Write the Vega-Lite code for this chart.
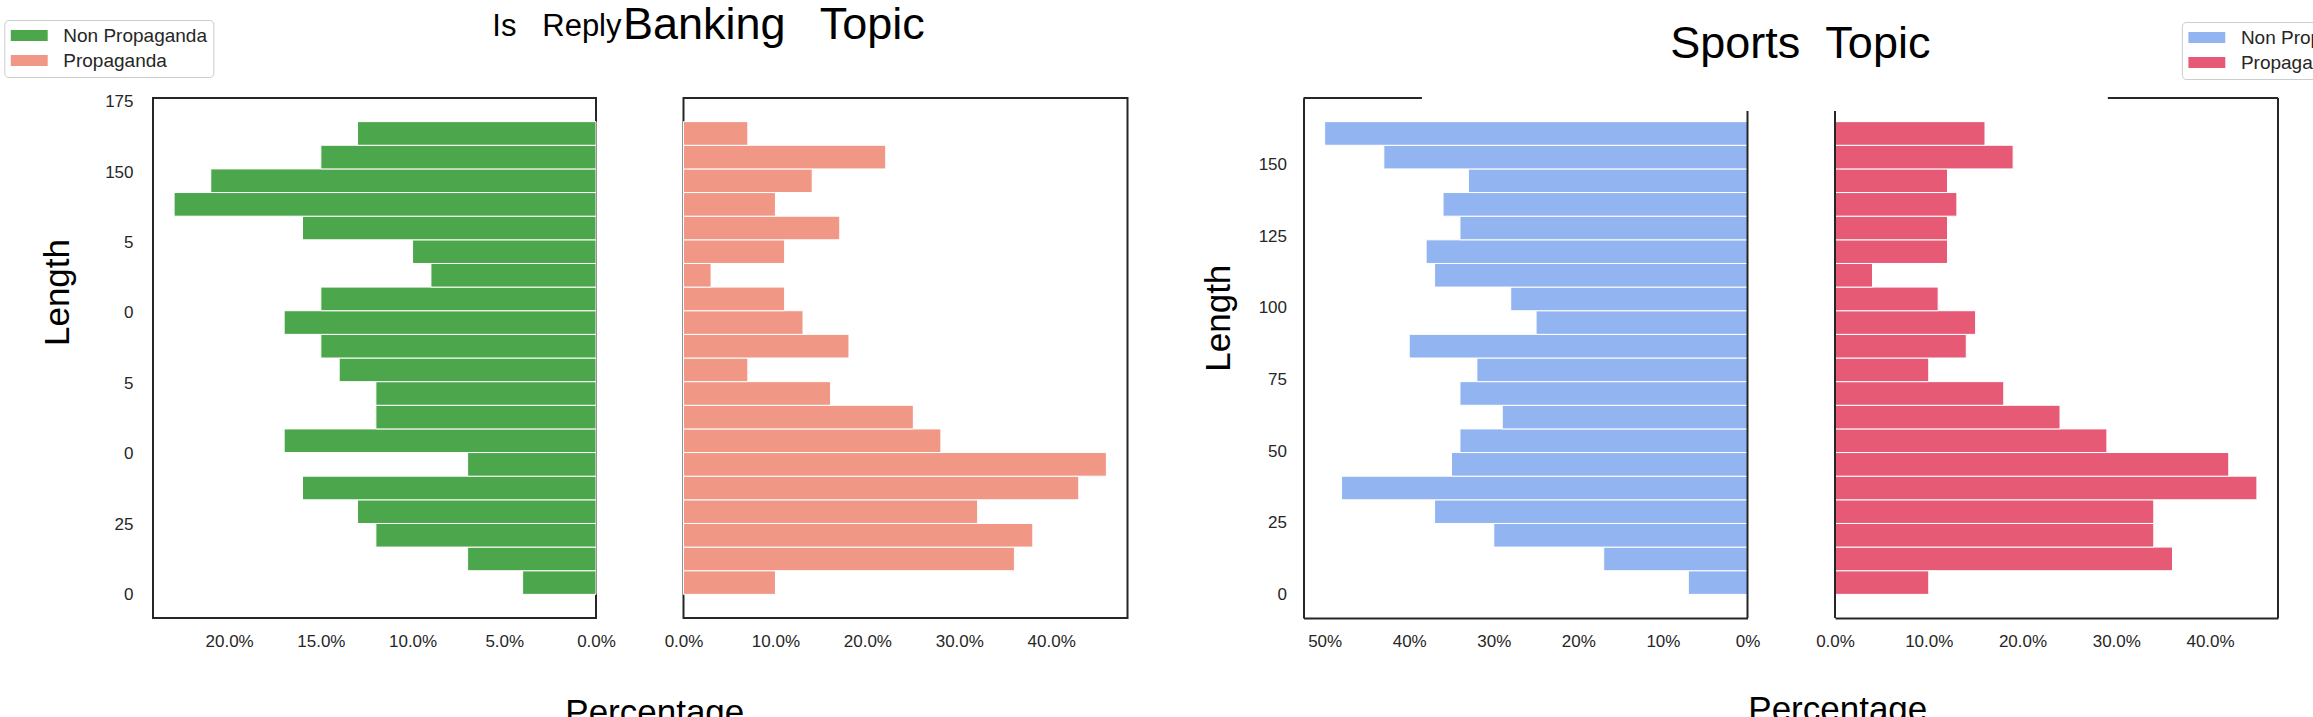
{
  "$schema": "https://vega.github.io/schema/vega-lite/v6.json",
  "background": "white",
  "padding": {"left": 2, "top": 2, "right": 0, "bottom": 0},
  "datasets": {
    "banking": [
      {"start": 0, "end": 8.4, "cls": "Non Propaganda", "pct": 4},
      {"start": 8.4, "end": 16.8, "cls": "Non Propaganda", "pct": 7},
      {"start": 16.8, "end": 25.2, "cls": "Non Propaganda", "pct": 12},
      {"start": 25.2, "end": 33.6, "cls": "Non Propaganda", "pct": 13},
      {"start": 33.6, "end": 42, "cls": "Non Propaganda", "pct": 16},
      {"start": 42, "end": 50.4, "cls": "Non Propaganda", "pct": 7},
      {"start": 50.4, "end": 58.8, "cls": "Non Propaganda", "pct": 17},
      {"start": 58.8, "end": 67.2, "cls": "Non Propaganda", "pct": 12},
      {"start": 67.2, "end": 75.6, "cls": "Non Propaganda", "pct": 12},
      {"start": 75.6, "end": 84, "cls": "Non Propaganda", "pct": 14},
      {"start": 84, "end": 92.4, "cls": "Non Propaganda", "pct": 15},
      {"start": 92.4, "end": 100.8, "cls": "Non Propaganda", "pct": 17},
      {"start": 100.8, "end": 109.2, "cls": "Non Propaganda", "pct": 15},
      {"start": 109.2, "end": 117.6, "cls": "Non Propaganda", "pct": 9},
      {"start": 117.6, "end": 126, "cls": "Non Propaganda", "pct": 10},
      {"start": 126, "end": 134.4, "cls": "Non Propaganda", "pct": 16},
      {"start": 134.4, "end": 142.8, "cls": "Non Propaganda", "pct": 23},
      {"start": 142.8, "end": 151.2, "cls": "Non Propaganda", "pct": 21},
      {"start": 151.2, "end": 159.6, "cls": "Non Propaganda", "pct": 15},
      {"start": 159.6, "end": 168, "cls": "Non Propaganda", "pct": 13},
      {"start": 0, "end": 8.4, "cls": "Propaganda", "pct": 10},
      {"start": 8.4, "end": 16.8, "cls": "Propaganda", "pct": 36},
      {"start": 16.8, "end": 25.2, "cls": "Propaganda", "pct": 38},
      {"start": 25.2, "end": 33.6, "cls": "Propaganda", "pct": 32},
      {"start": 33.6, "end": 42, "cls": "Propaganda", "pct": 43},
      {"start": 42, "end": 50.4, "cls": "Propaganda", "pct": 46},
      {"start": 50.4, "end": 58.8, "cls": "Propaganda", "pct": 28},
      {"start": 58.8, "end": 67.2, "cls": "Propaganda", "pct": 25},
      {"start": 67.2, "end": 75.6, "cls": "Propaganda", "pct": 16},
      {"start": 75.6, "end": 84, "cls": "Propaganda", "pct": 7},
      {"start": 84, "end": 92.4, "cls": "Propaganda", "pct": 18},
      {"start": 92.4, "end": 100.8, "cls": "Propaganda", "pct": 13},
      {"start": 100.8, "end": 109.2, "cls": "Propaganda", "pct": 11},
      {"start": 109.2, "end": 117.6, "cls": "Propaganda", "pct": 3},
      {"start": 117.6, "end": 126, "cls": "Propaganda", "pct": 11},
      {"start": 126, "end": 134.4, "cls": "Propaganda", "pct": 17},
      {"start": 134.4, "end": 142.8, "cls": "Propaganda", "pct": 10},
      {"start": 142.8, "end": 151.2, "cls": "Propaganda", "pct": 14},
      {"start": 151.2, "end": 159.6, "cls": "Propaganda", "pct": 22},
      {"start": 159.6, "end": 168, "cls": "Propaganda", "pct": 7}
    ],
    "sports": [
      {"start": 0, "end": 8.25, "cls": "Non Propaganda", "pct": 7},
      {"start": 8.25, "end": 16.5, "cls": "Non Propaganda", "pct": 17},
      {"start": 16.5, "end": 24.75, "cls": "Non Propaganda", "pct": 30},
      {"start": 24.75, "end": 33, "cls": "Non Propaganda", "pct": 37},
      {"start": 33, "end": 41.25, "cls": "Non Propaganda", "pct": 48},
      {"start": 41.25, "end": 49.5, "cls": "Non Propaganda", "pct": 35},
      {"start": 49.5, "end": 57.75, "cls": "Non Propaganda", "pct": 34},
      {"start": 57.75, "end": 66, "cls": "Non Propaganda", "pct": 29},
      {"start": 66, "end": 74.25, "cls": "Non Propaganda", "pct": 34},
      {"start": 74.25, "end": 82.5, "cls": "Non Propaganda", "pct": 32},
      {"start": 82.5, "end": 90.75, "cls": "Non Propaganda", "pct": 40},
      {"start": 90.75, "end": 99, "cls": "Non Propaganda", "pct": 25},
      {"start": 99, "end": 107.25, "cls": "Non Propaganda", "pct": 28},
      {"start": 107.25, "end": 115.5, "cls": "Non Propaganda", "pct": 37},
      {"start": 115.5, "end": 123.75, "cls": "Non Propaganda", "pct": 38},
      {"start": 123.75, "end": 132, "cls": "Non Propaganda", "pct": 34},
      {"start": 132, "end": 140.25, "cls": "Non Propaganda", "pct": 36},
      {"start": 140.25, "end": 148.5, "cls": "Non Propaganda", "pct": 33},
      {"start": 148.5, "end": 156.75, "cls": "Non Propaganda", "pct": 43},
      {"start": 156.75, "end": 165, "cls": "Non Propaganda", "pct": 50},
      {"start": 0, "end": 8.25, "cls": "Propaganda", "pct": 10},
      {"start": 8.25, "end": 16.5, "cls": "Propaganda", "pct": 36},
      {"start": 16.5, "end": 24.75, "cls": "Propaganda", "pct": 34},
      {"start": 24.75, "end": 33, "cls": "Propaganda", "pct": 34},
      {"start": 33, "end": 41.25, "cls": "Propaganda", "pct": 45},
      {"start": 41.25, "end": 49.5, "cls": "Propaganda", "pct": 42},
      {"start": 49.5, "end": 57.75, "cls": "Propaganda", "pct": 29},
      {"start": 57.75, "end": 66, "cls": "Propaganda", "pct": 24},
      {"start": 66, "end": 74.25, "cls": "Propaganda", "pct": 18},
      {"start": 74.25, "end": 82.5, "cls": "Propaganda", "pct": 10},
      {"start": 82.5, "end": 90.75, "cls": "Propaganda", "pct": 14},
      {"start": 90.75, "end": 99, "cls": "Propaganda", "pct": 15},
      {"start": 99, "end": 107.25, "cls": "Propaganda", "pct": 11},
      {"start": 107.25, "end": 115.5, "cls": "Propaganda", "pct": 4},
      {"start": 115.5, "end": 123.75, "cls": "Propaganda", "pct": 12},
      {"start": 123.75, "end": 132, "cls": "Propaganda", "pct": 12},
      {"start": 132, "end": 140.25, "cls": "Propaganda", "pct": 13},
      {"start": 140.25, "end": 148.5, "cls": "Propaganda", "pct": 12},
      {"start": 148.5, "end": 156.75, "cls": "Propaganda", "pct": 19},
      {"start": 156.75, "end": 165, "cls": "Propaganda", "pct": 16}
    ]
  },
  "spacing": 87.5,
  "bounds": "flush",
  "resolve": {"scale": {"color": "independent", "x": "independent", "y": "independent"}, "legend": {"color": "independent"}},
  "hconcat": [
    {
      "width": 443,
      "height": 520,
      "data": {"name": "banking"},
      "transform": [{"filter": "datum.cls == 'Non Propaganda'"}],
      "mark": {"type": "rect", "stroke": "white", "strokeWidth": 1},
      "encoding": {
        "y": {"field": "start", "type": "quantitative", "scale": {"domain": [-8.4, 176.4], "nice": false, "zero": false},
          "axis": {"values": [0, 25, 50, 75, 100, 125, 150, 175], "title": "Length", "titleX": -85, "titleY": 194, "titleAlign": "center", "titleBaseline": "alphabetic", "titleAngle": -90, "labelPadding": 20,
            "labelExpr": "(datum.value == 125 || datum.value == 75) ? '5' : ((datum.value == 100 || datum.value == 50) ? '0' : datum.label)"}},
        "y2": {"field": "end"},
        "x": {"field": "pct", "type": "quantitative", "scale": {"domain": [0, 24.15], "reverse": true, "nice": false, "zero": false},
          "axis": {"values": [0, 5, 10, 15, 20], "labelExpr": "format(datum.value, '.1f') + '%'", "title": null, "labelPadding": 15}},
        "x2": {"datum": 0},
        "color": {"field": "cls", "type": "nominal", "scale": {"domain": ["Non Propaganda", "Propaganda"], "range": ["#4ca64c", "#f19785"]},
          "legend": {"orient": "none", "legendX": -148.7, "legendY": -78}}
      }
    },
    {
      "width": 444,
      "height": 520,
      "data": {"name": "banking"},
      "transform": [{"filter": "datum.cls == 'Propaganda'"}],
      "title": {"text": "Banking\u00a0\u00a0\u2009Topic", "fontSize": 45, "anchor": "start", "dx": -60.5, "offset": 50},
      "mark": {"type": "rect", "stroke": "white", "strokeWidth": 1},
      "encoding": {
        "y": {"field": "start", "type": "quantitative", "scale": {"domain": [-8.4, 176.4], "nice": false, "zero": false}, "axis": null},
        "y2": {"field": "end"},
        "x": {"field": "pct", "type": "quantitative", "scale": {"domain": [0, 48.3], "nice": false, "zero": false},
          "axis": {"values": [0, 10, 20, 30, 40], "labelExpr": "format(datum.value, '.1f') + '%'", "title": "Percentage", "titleX": -29.2, "titleY": 105.5, "titleAlign": "center", "titleBaseline": "alphabetic", "labelPadding": 15}},
        "x2": {"datum": 0},
        "color": {"field": "cls", "type": "nominal", "scale": {"domain": ["Non Propaganda", "Propaganda"], "range": ["#4ca64c", "#f19785"]}, "legend": null}
      }
    },
    {
      "width": 1,
      "height": 520,
      "data": {"values": [{"v": 0}]},
      "view": {"stroke": null},
      "title": {"text": "Is\u00a0\u00a0\u00a0Reply", "fontSize": 31, "anchor": "start", "dx": -722.7, "offset": 55},
      "mark": {"type": "point", "opacity": 0},
      "encoding": {}
    },
    {
      "width": 444,
      "height": 520,
      "view": {"stroke": null},
      "layer": [
        {
          "data": {"name": "sports"},
          "transform": [{"filter": "datum.cls == 'Non Propaganda'"}],
          "mark": {"type": "rect", "stroke": "white", "strokeWidth": 1},
          "encoding": {
            "y": {"field": "start", "type": "quantitative", "scale": {"domain": [-8.25, 173.25], "nice": false, "zero": false},
              "axis": {"values": [0, 25, 50, 75, 100, 125, 150], "title": "Length", "titleX": -73.6, "titleY": 219.7, "titleAlign": "center", "titleBaseline": "alphabetic", "titleAngle": -90, "labelPadding": 17, "domain": true}},
            "y2": {"field": "end"},
            "x": {"field": "pct", "type": "quantitative", "scale": {"domain": [0, 52.5], "reverse": true, "nice": false, "zero": false},
              "axis": {"values": [0, 10, 20, 30, 40, 50], "labelExpr": "format(datum.value, 'd') + '%'", "title": null, "labelPadding": 15, "domain": true}},
            "x2": {"datum": 0},
            "color": {"field": "cls", "type": "nominal", "scale": {"domain": ["Non Propaganda", "Propaganda"], "range": ["#92b5f2", "#e65a76"]},
              "legend": {"orient": "none", "legendX": 878.4, "legendY": -76}}
          }
        },
        {
          "data": {"values": [{"v": 0}]},
          "mark": {"type": "rule", "color": "#262626", "strokeWidth": 2},
          "encoding": {"x": {"datum": 0, "type": "quantitative"}, "y": {"datum": -8.25, "type": "quantitative"}, "y2": {"datum": 168.7}}
        },
        {
          "data": {"values": [{"v": 0}]},
          "mark": {"type": "rule", "color": "#262626", "strokeWidth": 2},
          "encoding": {"y": {"datum": 173.25, "type": "quantitative"}, "x": {"datum": 52.5, "type": "quantitative"}, "x2": {"datum": 38.5}}
        }
      ]
    },
    {
      "width": 443,
      "height": 520,
      "view": {"stroke": null},
      "title": {"text": "Sports\u00a0\u00a0Topic", "fontSize": 45, "anchor": "start", "dx": -164.7, "offset": 30},
      "layer": [
        {
          "data": {"name": "sports"},
          "transform": [{"filter": "datum.cls == 'Propaganda'"}],
          "mark": {"type": "rect", "stroke": "white", "strokeWidth": 1},
          "encoding": {
            "y": {"field": "start", "type": "quantitative", "scale": {"domain": [-8.25, 173.25], "nice": false, "zero": false}, "axis": null},
            "y2": {"field": "end"},
            "x": {"field": "pct", "type": "quantitative", "scale": {"domain": [0, 47.25], "nice": false, "zero": false},
              "axis": {"values": [0, 10, 20, 30, 40], "labelExpr": "format(datum.value, '.1f') + '%'", "title": "Percentage", "titleX": 2.3, "titleY": 102.5, "titleAlign": "center", "titleBaseline": "alphabetic", "labelPadding": 15, "domain": true}},
            "x2": {"datum": 0},
            "color": {"field": "cls", "type": "nominal", "scale": {"domain": ["Non Propaganda", "Propaganda"], "range": ["#92b5f2", "#e65a76"]}, "legend": null}
          }
        },
        {
          "data": {"values": [{"v": 0}]},
          "mark": {"type": "rule", "color": "#262626", "strokeWidth": 2},
          "encoding": {"x": {"datum": 0, "type": "quantitative"}, "y": {"datum": -8.25, "type": "quantitative"}, "y2": {"datum": 168.7}}
        },
        {
          "data": {"values": [{"v": 0}]},
          "mark": {"type": "rule", "color": "#262626", "strokeWidth": 2},
          "encoding": {"x": {"datum": 47.25, "type": "quantitative"}, "y": {"datum": -8.25, "type": "quantitative"}, "y2": {"datum": 173.25}}
        },
        {
          "data": {"values": [{"v": 0}]},
          "mark": {"type": "rule", "color": "#262626", "strokeWidth": 2},
          "encoding": {"y": {"datum": 173.25, "type": "quantitative"}, "x": {"datum": 29.1, "type": "quantitative"}, "x2": {"datum": 47.25}}
        }
      ]
    }
  ],
  "config": {
    "font": "Liberation Sans",
    "view": {"stroke": "#262626", "strokeWidth": 2},
    "axis": {"grid": false, "ticks": false, "tickSize": 0, "domain": false, "domainColor": "#262626", "domainWidth": 2,
      "labelFont": "Liberation Sans", "labelFontSize": 17, "labelColor": "#262626", "labelOverlap": false, "labelFlush": false,
      "titleFont": "Liberation Sans", "titleFontSize": 35, "titleFontWeight": "normal", "titleColor": "black"},
    "title": {"font": "Liberation Sans", "fontWeight": "normal", "color": "black", "frame": "group", "baseline": "alphabetic"},
    "legend": {"title": null, "symbolType": "M-2.05,-0.6H2.05V0.6H-2.05Z", "symbolSize": 324, "symbolOffset": 9.45, "symbolStrokeWidth": 0, "symbolOpacity": 1,
      "labelFont": "Liberation Sans", "labelFontSize": 19, "labelColor": "#262626", "labelOffset": 24.55, "padding": 6, "rowPadding": 5,
      "strokeColor": "#cccccc", "fillColor": "white", "cornerRadius": 4}
  }
}
